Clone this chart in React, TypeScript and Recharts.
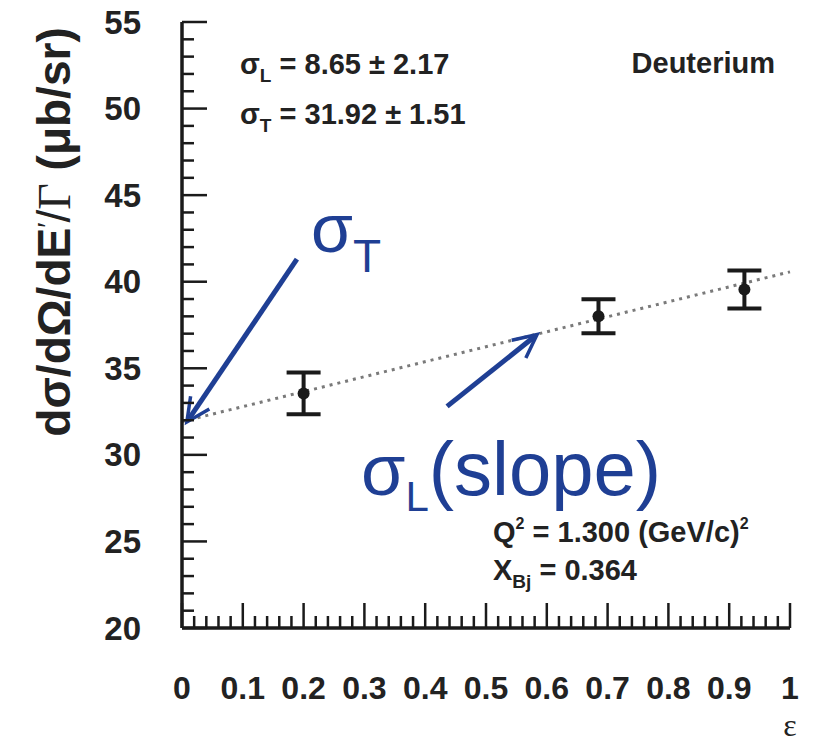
import React from "react";
import { ScatterChart, Scatter, XAxis, YAxis, ErrorBar, ReferenceLine } from "recharts";

// measured points (epsilon vs reduced cross section)
const EPSILON = [0.2, 0.685, 0.925];
const SIGMA = [33.55, 38.0, 39.55];
const SIGMA_ERR = [1.2, 0.98, 1.1];

// Rosenbluth fit result
const SIGMA_L = 8.65;
const SIGMA_T = 31.92;

const X_LABELS = [0, 0.1, 0.2, 0.3, 0.4, 0.5, 0.6, 0.7, 0.8, 0.9, 1];
const Y_LABELS = [20, 25, 30, 35, 40, 45, 50, 55];
const X_TICKS = Array.from({ length: 51 }, (_, i) => i / 50);
const Y_TICKS = Array.from({ length: 36 }, (_, i) => 20 + i);

// blue annotation arrows, data coords [start, tip]
const ARROW_T = [{ x: 0.189, y: 41.3 }, { x: 0.008, y: 31.9 }];
const ARROW_L = [{ x: 0.436, y: 32.8 }, { x: 0.584, y: 36.95 }];

const points = EPSILON.map((e, i) => ({ eps: e, sigma: SIGMA[i], err: SIGMA_ERR[i] }));
const fit = [
  { x: 0, y: SIGMA_T },
  { x: 1, y: SIGMA_T + SIGMA_L },
];

const INK = "#1a1a1a";
const BLUE = "#1f3f94";
const SANS = "'Liberation Sans', Arial, sans-serif";

function YTick({ x, y, payload }: any) {
  const major = Y_LABELS.includes(payload.value);
  return (
    <g>
      <line x1={x} x2={x + (major ? 25 : 12)} y1={y} y2={y} stroke={INK} strokeWidth={2.5} />
      {major && (
        <text x={x - 41} y={y} textAnchor="end" dominantBaseline="central" fontFamily={SANS}
          fontWeight="bold" fontSize={33} fill="#222">
          {payload.value}
        </text>
      )}
    </g>
  );
}

function XTick({ x, y, payload }: any) {
  const v = payload.value;
  const major = X_LABELS.some((l) => Math.abs(l - v) < 1e-6);
  const label = v < 1e-6 ? "0" : Math.abs(v - 1) < 1e-6 ? "1" : v.toFixed(1);
  return (
    <g>
      <line x1={x} x2={x} y1={y} y2={y - (major ? 25 : 12)} stroke={INK} strokeWidth={2.5} />
      {major && (
        <text x={x} y={y + 60} textAnchor="middle" dominantBaseline="central" fontFamily={SANS}
          fontWeight="bold" fontSize={32} fill="#222">
          {label}
        </text>
      )}
    </g>
  );
}

function Arrow(props: any) {
  const { x1, y1, x2, y2 } = props;
  const a = Math.atan2(y2 - y1, x2 - x1);
  const len = 26;
  const spread = 0.45;
  const p1 = [x2 - len * Math.cos(a - spread), y2 - len * Math.sin(a - spread)];
  const p2 = [x2 - len * Math.cos(a + spread), y2 - len * Math.sin(a + spread)];
  return (
    <g>
      <line x1={x1} y1={y1} x2={x2 - 4 * Math.cos(a)} y2={y2 - 4 * Math.sin(a)} stroke={BLUE} strokeWidth={5} />
      <polyline points={`${p1[0]},${p1[1]} ${x2},${y2} ${p2[0]},${p2[1]}`} fill="none" stroke={BLUE}
        strokeWidth={3.5} strokeLinejoin="miter" />
    </g>
  );
}

export default function App() {
  return (
    <div style={{ position: "absolute", left: 0, top: 0, width: 828, height: 750, background: "#fff" }}>
      <ScatterChart width={828} height={750} margin={{ top: 22, right: 38, bottom: 22, left: 32 }}>
        <XAxis dataKey="eps" type="number" domain={[0, 1]} ticks={X_TICKS} interval={0} height={100}
          tickSize={0} tickMargin={0} tick={<XTick />} axisLine={{ stroke: INK, strokeWidth: 3.5 }} />
        <XAxis xAxisId="top" orientation="top" type="number" domain={[0, 1]} height={0} tick={false}
          tickLine={false} axisLine={{ stroke: INK, strokeWidth: 3.5 }} />
        <YAxis dataKey="sigma" type="number" domain={[20, 55]} ticks={Y_TICKS} interval={0} width={150}
          tickSize={0} tickMargin={0} tick={<YTick />} axisLine={{ stroke: INK, strokeWidth: 3.5 }} />
        <YAxis yAxisId="right" orientation="right" type="number" domain={[20, 55]} width={0} tick={false}
          tickLine={false} axisLine={{ stroke: INK, strokeWidth: 3.5 }} />
        <ReferenceLine segment={fit} stroke="#7a7a7a" strokeWidth={3} strokeDasharray="3 5" />
        <ReferenceLine segment={ARROW_T} ifOverflow="visible" shape={<Arrow />} />
        <ReferenceLine segment={ARROW_L} ifOverflow="visible" shape={<Arrow />} />
        <Scatter data={points} isAnimationActive={false}
          shape={(p: any) => <circle cx={p.cx} cy={p.cy} r={6} fill={INK} />}>
          <ErrorBar dataKey="err" direction="y" width={17} strokeWidth={4} stroke={INK} />
        </Scatter>
      </ScatterChart>
      <svg width={828} height={750} style={{ position: "absolute", left: 0, top: 0, pointerEvents: "none" }}>
        <g fontFamily={SANS} fontWeight="bold" fill="#222" fontSize={29}>
          <text x={240} y={74}>
            σ<tspan fontSize={19} dy={8}>L</tspan>
            <tspan dy={-8}> = 8.65 ± 2.17</tspan>
          </text>
          <text x={240} y={124}>
            σ<tspan fontSize={19} dy={8}>T</tspan>
            <tspan dy={-8}> = 31.92 ± 1.51</tspan>
          </text>
          <text x={775} y={73} textAnchor="end">Deuterium</text>
          <text x={493} y={542}>
            Q<tspan fontSize={16} dy={-13}>2</tspan>
            <tspan dy={13}> = 1.300 (GeV/c)</tspan>
            <tspan fontSize={16} dy={-13}>2</tspan>
          </text>
          <text x={493} y={580}>
            X<tspan fontSize={19} dy={8}>Bj</tspan>
            <tspan dy={-8}> = 0.364</tspan>
          </text>
        </g>
        <g fontFamily={SANS} fill={BLUE}>
          <text x={311} y={252} fontSize={68}>
            σ<tspan fontSize={46} dy={20}>T</tspan>
          </text>
          <text x={361} y={495} fontSize={72}>
            σ<tspan fontSize={42} dy={16}>L</tspan>
            <tspan fontSize={76} dy={-16}>(slope)</tspan>
          </text>
        </g>
        <text x={790} y={736} textAnchor="middle" fontFamily="'Liberation Serif', serif" fontSize={32} fill="#222">
          ε
        </text>
        <text x={70} y={232} transform="rotate(-90 70 232)" textAnchor="middle" fontFamily={SANS}
          fontWeight="bold" fontSize={46} fill="#222">
          dσ/dΩ/dE<tspan fontWeight="normal" dy={-13} fontSize={28}>′</tspan>
          <tspan dy={13} fontWeight="normal">/</tspan>
          <tspan fontWeight="normal" fontFamily="'Liberation Serif', serif">Γ</tspan> (μb/sr)
        </text>
      </svg>
    </div>
  );
}
